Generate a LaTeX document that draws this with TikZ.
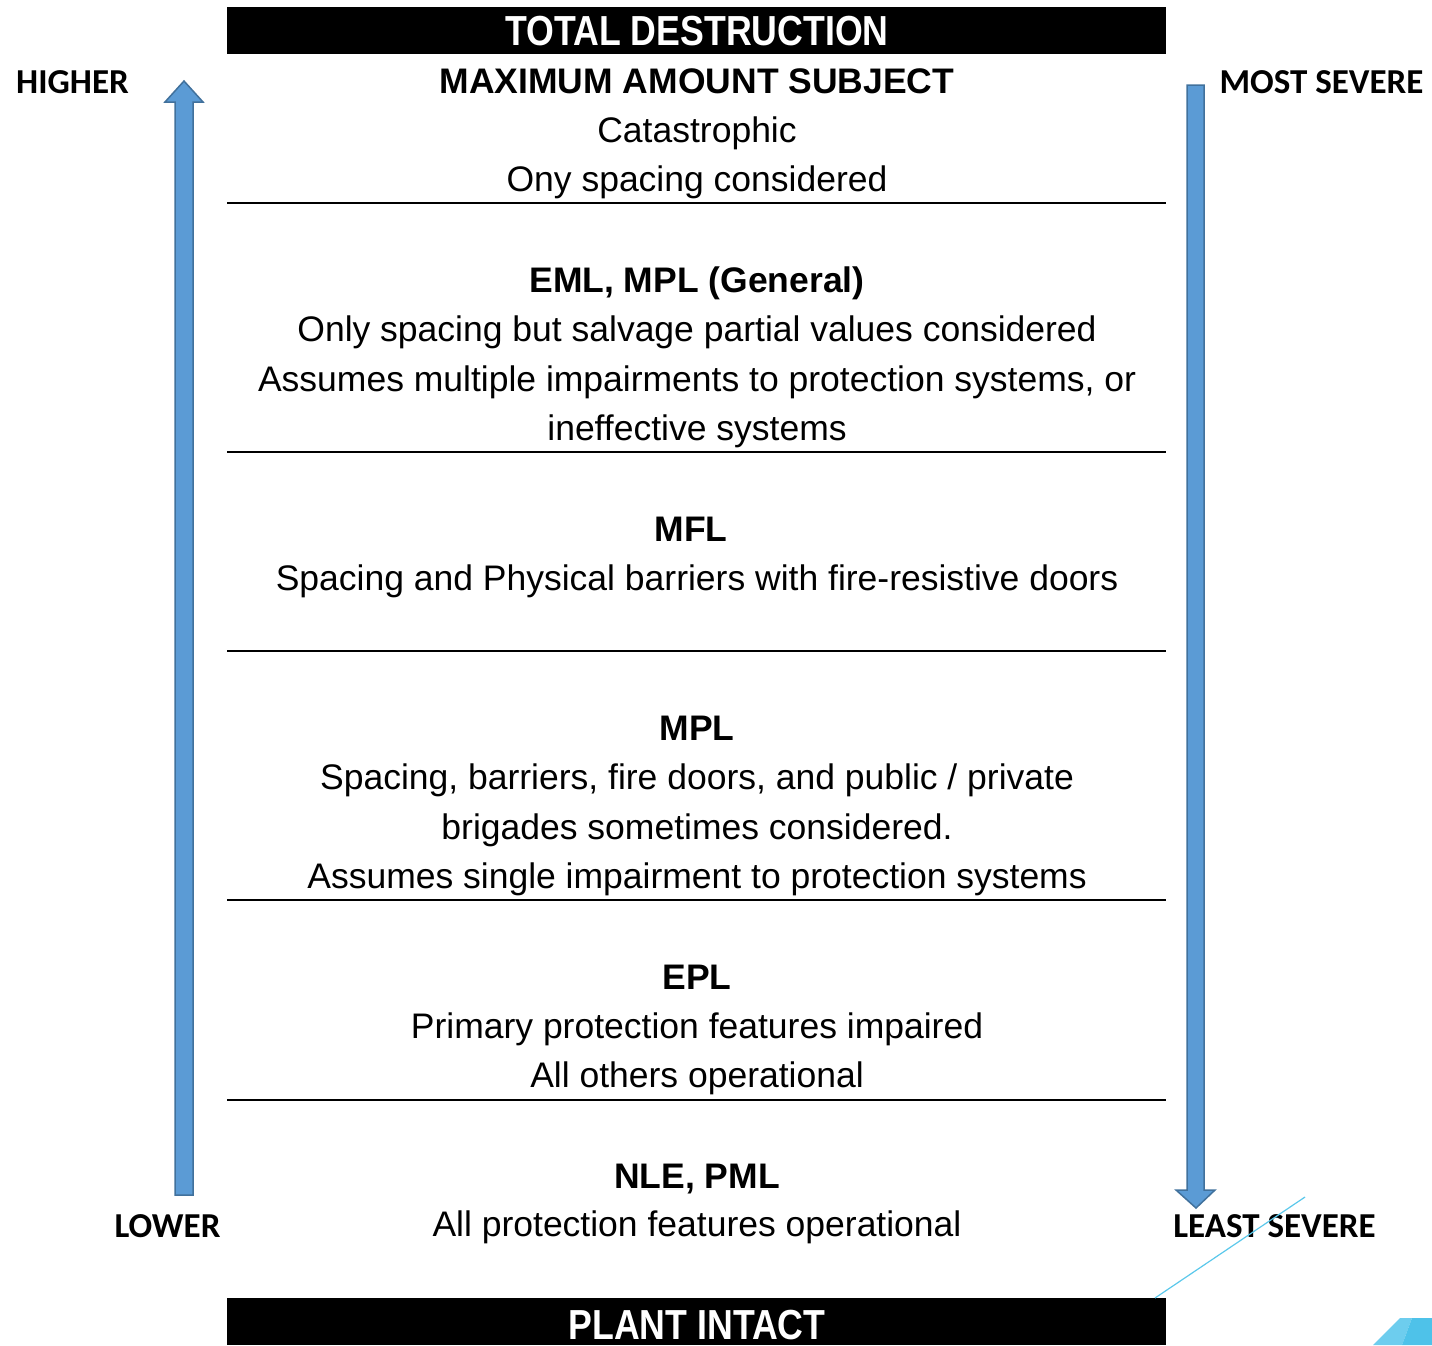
\documentclass[tikz,border=0pt]{standalone}
\usepackage{fontspec}
\setmainfont{Liberation Sans}
\newfontfamily\labfont{Carlito}
\definecolor{arrowfill}{HTML}{5B9BD5}
\definecolor{arrowline}{HTML}{41719C}
\definecolor{thinblue}{HTML}{5BC8EB}
\definecolor{decoA}{HTML}{6DCDEE}
\definecolor{decoB}{HTML}{4EC2E9}
\begin{document}
\begin{tikzpicture}[x=1pt,y=-1pt,
  body/.style={anchor=base,inner sep=0pt,font=\fontsize{35.5}{40}\selectfont},
  head/.style={anchor=base,inner sep=0pt,font=\fontsize{35.5}{40}\selectfont\bfseries},
  side/.style={anchor=base,inner sep=0pt,font=\labfont\fontsize{35}{40}\selectfont\bfseries},
  bartext/.style={anchor=base,inner sep=0pt,text=white,font=\fontsize{42}{46}\selectfont\bfseries},
  bar/.style={fill=black,draw=none},
  sep/.style={draw=black,line width=1.5pt},
  bigarrow/.style={fill=arrowfill,draw=arrowline,line width=1.5pt,line join=miter}
]
\useasboundingbox (0,0) rectangle (1432,1345);
% bars
\fill[bar] (227,7) rectangle (1166,54);
\fill[bar] (227,1298) rectangle (1166,1345);
\node[bartext] (top) at (697,45) {\scalebox{0.85}[1]{TOTAL DESTRUCTION}};
\node[bartext] (bot) at (697,1339) {\scalebox{0.85}[1]{PLANT INTACT}};
% separators
\foreach \yy/\nm in {203/s1,452/s2,651/s3,900/s4,1100/s5}{
  \coordinate (\nm a) at (227,\yy);
  \coordinate (\nm b) at (1166,\yy);
  \draw[sep] (\nm a) -- (\nm b);
}
% section 1
\node[head] (h1) at (697,93) {MAXIMUM AMOUNT SUBJECT};
\node[body] (t1a) at (697,142) {Catastrophic};
\node[body] (t1b) at (697,191) {Ony spacing considered};
% section 2
\node[head] (h2) at (697,292) {EML, MPL (General)};
\node[body] (t2a) at (697,341) {Only spacing but salvage partial values considered};
\node[body] (t2b) at (697,391) {Assumes multiple impairments to protection systems, or};
\node[body] (t2c) at (697,440) {ineffective systems};
% section 3
\node[head] (h3) at (691,541) {MFL};
\node[body] (t3a) at (697,590) {Spacing and Physical barriers with fire-resistive doors};
% section 4
\node[head] (h4) at (697,740) {MPL};
\node[body] (t4a) at (697,789) {Spacing, barriers, fire doors, and public / private};
\node[body] (t4b) at (697,839) {brigades sometimes considered.};
\node[body] (t4c) at (697,888) {Assumes single impairment to protection systems};
% section 5
\node[head] (h5) at (697,989) {EPL};
\node[body] (t5a) at (697,1038) {Primary protection features impaired};
\node[body] (t5b) at (697,1087) {All others operational};
% section 6
\node[head] (h6) at (697,1188) {NLE, PML};
\node[body] (t6a) at (697,1236) {All protection features operational};
% side labels
\node[side] (higher) at (72.5,93) {HIGHER};
\node[side] (lower) at (167.5,1237) {LOWER};
\node[side] (most) at (1321.5,93) {MOST SEVERE};
\node[side] (least) at (1274.5,1237) {LEAST SEVERE};
% arrows
\draw[bigarrow] (175,1195) -- (175,102) -- (165,102) -- (184,81) -- (203,102) -- (193,102) -- (193,1195) -- cycle;
\draw[bigarrow] (1187,85) -- (1204,85) -- (1204,1190) -- (1215,1190) -- (1196,1208) -- (1176,1190) -- (1187,1190) -- cycle;
% decoration
\draw[thinblue,line width=1.2pt] (1155,1298) -- (1305,1197);
\fill[decoA] (1373,1345) -- (1400,1318) -- (1412,1318) -- (1402,1345) -- cycle;
\fill[decoB] (1402,1345) -- (1412,1318) -- (1432,1318) -- (1432,1345) -- cycle;
\end{tikzpicture}
\end{document}
